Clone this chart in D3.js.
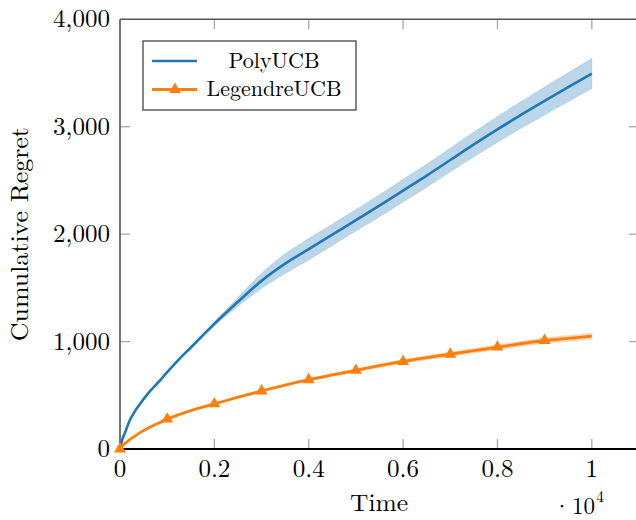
<!DOCTYPE html>
<html>
<head>
<meta charset="utf-8">
<script src="https://cdn.jsdelivr.net/npm/d3@7/dist/d3.min.js"></script>
<style>
  html, body { margin: 0; padding: 0; background: #fff; }
  svg { display: block; }
  text { font-family: "Latin Modern Roman", "CMU Serif", "Liberation Serif", serif; fill: #000; }
</style>
</head>
<body>
<svg id="chart" width="636" height="520"></svg>
<script>
// ---- data (time in units of 10^4) ----
const time = [0, 0.005, 0.01, 0.02, 0.03, 0.04, 0.06, 0.08, 0.1, 0.125, 0.15, 0.175, 0.2, 0.25, 0.3, 0.35, 0.4, 0.45, 0.5, 0.55, 0.6, 0.65, 0.7, 0.75, 0.8, 0.85, 0.9, 0.95, 1.0];
const polyMean  = [0, 90, 145, 260, 340, 405, 520, 615, 715, 835, 945, 1055, 1165, 1370, 1565, 1725, 1860, 1995, 2130, 2265, 2405, 2545, 2690, 2835, 2975, 3110, 3240, 3368, 3495];
const polyUpper = [0, 92, 148, 264, 345, 411, 527, 623, 724, 845, 957, 1070, 1185, 1412, 1637, 1817, 1960, 2095, 2230, 2367, 2510, 2653, 2800, 2950, 3095, 3235, 3370, 3503, 3635];
const polyLower = [0, 88, 142, 256, 335, 399, 513, 607, 706, 825, 933, 1040, 1145, 1328, 1493, 1633, 1760, 1895, 2030, 2163, 2300, 2437, 2580, 2720, 2855, 2985, 3110, 3233, 3355];
const legMean  = [0, 30, 50, 85, 115, 145, 195, 238, 278, 320, 357, 390, 420, 482, 540, 595, 645, 690, 732, 775, 815, 850, 882, 915, 948, 980, 1010, 1030, 1050];
const legUpper = [0, 31, 51, 87, 117, 148, 198, 242, 283, 326, 363, 397, 428, 491, 550, 606, 657, 704, 747, 791, 833, 869, 902, 936, 970, 1003, 1035, 1056, 1078];
const legLower = [0, 29, 49, 83, 113, 142, 192, 234, 273, 314, 351, 383, 412, 473, 530, 584, 633, 676, 717, 759, 797, 831, 862, 894, 926, 957, 985, 1004, 1022];
const markerTimes = [0, 0.1, 0.2, 0.3, 0.4, 0.5, 0.6, 0.7, 0.8, 0.9];
const xTicks = [0, 0.2, 0.4, 0.6, 0.8, 1];
const yTicks = [0, 1000, 2000, 3000, 4000];
const seriesNames = ["PolyUCB", "LegendreUCB"];
const colors = ["#1f77b4", "#ff7f0e"];

// ---- layout ----
const svg = d3.select("#chart");
const pLeft = 120, pRight = 639, pTop = 19.3, pBottom = 449;
const x = d3.scaleLinear().domain([0, 1.1]).range([pLeft, pRight]);
const y = d3.scaleLinear().domain([0, 4000]).range([pBottom, pTop]);

const poly = time.map((t, i) => ({t, m: polyMean[i], lo: polyLower[i], hi: polyUpper[i]}));
const leg  = time.map((t, i) => ({t, m: legMean[i], lo: legLower[i], hi: legUpper[i]}));

const area = d3.area().x(d => x(d.t)).y0(d => y(d.lo)).y1(d => y(d.hi)).curve(d3.curveMonotoneX);
const line = d3.line().x(d => x(d.t)).y(d => y(d.m)).curve(d3.curveMonotoneX);

// ---- ticks (inward, grey) ----
const tickLen = 10, tickColor = "#a8a8a8";
const g = svg.append("g");
xTicks.forEach(v => {
  if (v === 0) return;
  g.append("line").attr("x1", x(v)).attr("x2", x(v)).attr("y1", pBottom).attr("y2", pBottom - tickLen)
    .attr("stroke", tickColor).attr("stroke-width", 1.3);
  g.append("line").attr("x1", x(v)).attr("x2", x(v)).attr("y1", pTop).attr("y2", pTop + tickLen)
    .attr("stroke", tickColor).attr("stroke-width", 1.3);
});
yTicks.forEach(v => {
  if (v === 0 || v === 4000) return;
  g.append("line").attr("x1", pLeft).attr("x2", pLeft + tickLen).attr("y1", y(v)).attr("y2", y(v))
    .attr("stroke", tickColor).attr("stroke-width", 1.3);
  g.append("line").attr("x1", pRight).attr("x2", pRight - tickLen).attr("y1", y(v)).attr("y2", y(v))
    .attr("stroke", tickColor).attr("stroke-width", 1.3);
});

// ---- bands ----
svg.append("path").datum(poly).attr("d", area)
  .attr("fill", colors[0]).attr("fill-opacity", 0.3)
  .attr("stroke", colors[0]).attr("stroke-opacity", 0.15).attr("stroke-width", 1);
svg.append("path").datum(leg).attr("d", area)
  .attr("fill", colors[1]).attr("fill-opacity", 0.3)
  .attr("stroke", colors[1]).attr("stroke-opacity", 0.15).attr("stroke-width", 1);

// ---- frame ----
svg.append("line").attr("x1", pLeft).attr("x2", pRight).attr("y1", pTop).attr("y2", pTop)
  .attr("stroke", "#555").attr("stroke-width", 1.6);
svg.append("line").attr("x1", pLeft).attr("x2", pLeft).attr("y1", pTop).attr("y2", pBottom)
  .attr("stroke", "#666").attr("stroke-width", 1.8);
svg.append("line").attr("x1", pRight).attr("x2", pRight).attr("y1", pTop).attr("y2", pBottom)
  .attr("stroke", "#555").attr("stroke-width", 1.6);

// ---- lines ----
svg.append("path").datum(poly).attr("d", line)
  .attr("fill", "none").attr("stroke", colors[0]).attr("stroke-width", 2.6);
svg.append("path").datum(leg).attr("d", line)
  .attr("fill", "none").attr("stroke", colors[1]).attr("stroke-width", 2.8);

// bottom axis line (black)
svg.append("line").attr("x1", pLeft).attr("x2", pRight).attr("y1", pBottom).attr("y2", pBottom)
  .attr("stroke", "#000").attr("stroke-width", 1.8);

// ---- markers ----
const tri = d3.symbol().type(d3.symbolTriangle).size(62);
svg.append("g").selectAll("path")
  .data(leg.filter(d => markerTimes.includes(d.t)))
  .join("path")
  .attr("transform", d => `translate(${x(d.t)},${y(d.m)})`)
  .attr("d", tri)
  .attr("fill", colors[1]);

// ---- tick labels ----
const fmtY = d3.format(",");
yTicks.forEach(v => {
  svg.append("text").attr("x", 110).attr("y", y(v) + 8)
    .attr("text-anchor", "end").attr("font-size", 25).text(fmtY(v));
});
xTicks.forEach(v => {
  svg.append("text").attr("x", x(v)).attr("y", 477)
    .attr("text-anchor", "middle").attr("font-size", 25).text(String(v));
});

// ---- axis labels ----
svg.append("text").attr("x", 379).attr("y", 511)
  .attr("text-anchor", "middle").attr("font-size", 24)
  .attr("textLength", 58).attr("lengthAdjust", "spacingAndGlyphs").text("Time");
svg.append("text").attr("x", 571).attr("y", 514).attr("text-anchor", "end").attr("font-size", 23).text("·");
svg.append("text").attr("x", 572).attr("y", 514).attr("font-size", 23).text("10");
svg.append("text").attr("x", 596).attr("y", 502).attr("font-size", 16).text("4");
svg.append("text")
  .attr("transform", `translate(28,${(pTop + pBottom) / 2}) rotate(-90)`)
  .attr("text-anchor", "middle").attr("font-size", 25)
  .attr("textLength", 214).attr("lengthAdjust", "spacingAndGlyphs").text("Cumulative Regret");

// ---- legend ----
const lg = svg.append("g");
lg.append("rect").attr("x", 143).attr("y", 41).attr("width", 213).attr("height", 69)
  .attr("fill", "#fff").attr("stroke", "#444").attr("stroke-width", 1.3);
const rowsY = [61, 89.5];
const baseY = [67.5, 96];
seriesNames.forEach((name, i) => {
  lg.append("line").attr("x1", 152).attr("x2", 197).attr("y1", rowsY[i]).attr("y2", rowsY[i])
    .attr("stroke", colors[i]).attr("stroke-width", i === 0 ? 2.6 : 2.8);
  if (i === 1) {
    lg.append("path").attr("transform", `translate(175,${rowsY[i]})`).attr("d", tri).attr("fill", colors[i]);
  }
  lg.append("text").attr("x", 274).attr("y", baseY[i]).attr("text-anchor", "middle")
    .attr("font-size", 22).text(name);
});
</script>
</body>
</html>
